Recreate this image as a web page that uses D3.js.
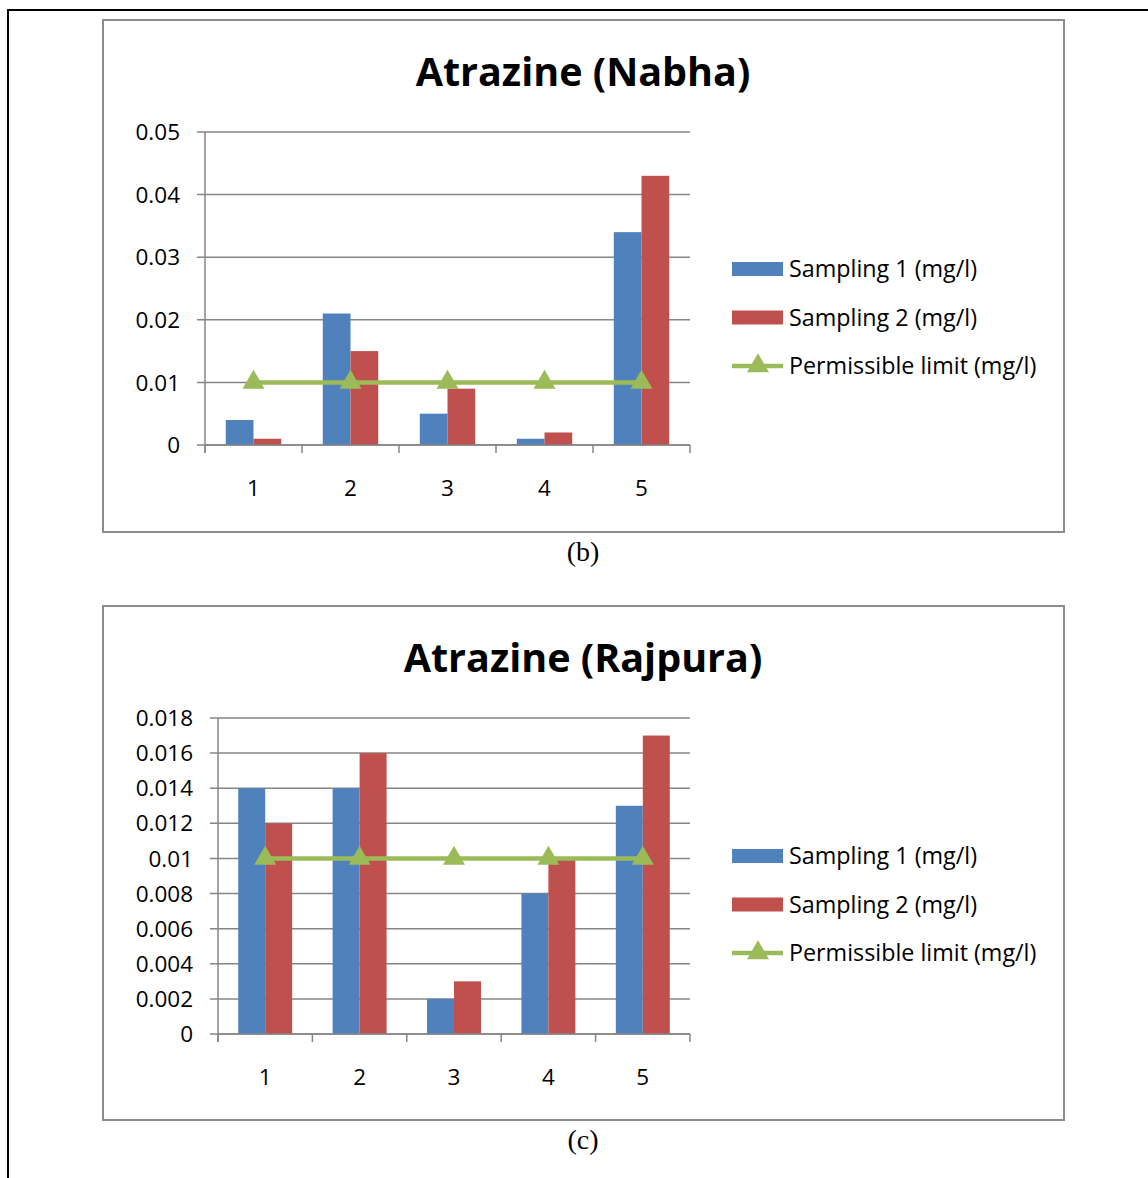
<!DOCTYPE html>
<html>
<head>
<meta charset="utf-8">
<script src="https://cdn.jsdelivr.net/npm/d3@7"></script>
<style>
  body { margin: 0; background: #fff; }
  svg { display: block; }
</style>
</head>
<body>
<script>
// sampling sites
var sites = ["1", "2", "3", "4", "5"];

// Atrazine (Nabha)
var nabhaS1 = [0.004, 0.021, 0.005, 0.001, 0.034];
var nabhaS2 = [0.001, 0.015, 0.009, 0.002, 0.043];
var nabhaLimit = [0.01, 0.01, 0.01, 0.01, 0.01];
var nabhaTicks = [0, 0.01, 0.02, 0.03, 0.04, 0.05];

// Atrazine (Rajpura)
var rajpuraS1 = [0.014, 0.014, 0.002, 0.008, 0.013];
var rajpuraS2 = [0.012, 0.016, 0.003, 0.010, 0.017];
var rajpuraLimit = [0.01, 0.01, 0.01, 0.01, 0.01];
var rajpuraTicks = [0, 0.002, 0.004, 0.006, 0.008, 0.01, 0.012, 0.014, 0.016, 0.018];

var seriesNames = ["Sampling 1 (mg/l)", "Sampling 2 (mg/l)", "Permissible limit (mg/l)"];
var colors = ["#4f81bd", "#c0504d", "#9bbb59"];

var font = "'Open Sans', Lato, sans-serif";

var svg = d3.select("body").append("svg")
    .attr("width", 1148)
    .attr("height", 1178);

// outer page frame
svg.append("path")
    .attr("d", "M8,1178 V10 H1148")
    .attr("fill", "none")
    .attr("stroke", "#000")
    .attr("stroke-width", 2);

function drawChart(opt) {
    var box = svg.append("g").attr("transform", "translate(" + opt.x + "," + opt.y + ")");

    box.append("rect")
        .attr("x", 0).attr("y", 0)
        .attr("width", 961).attr("height", opt.h)
        .attr("fill", "#fff")
        .attr("stroke", "#8c8c8c")
        .attr("stroke-width", 2);

    box.append("text")
        .attr("x", 480)
        .attr("y", opt.titleY)
        .style("text-anchor", "middle")
        .style("font", "bold 39.5px " + font)
        .text(opt.title);

    var g = box.append("g").attr("transform", "translate(" + opt.left + "," + opt.top + ")");
    var width = 690 - 103 - opt.left,
        height = opt.plotH;

    var x = d3.scaleBand().domain(sites).range([0, width]).paddingInner(0).paddingOuter(0);
    var y = d3.scaleLinear().domain([0, d3.max(opt.ticks)]).range([height, 0]);

    // gridlines
    g.selectAll(".grid")
        .data(opt.ticks)
        .enter().append("line")
        .attr("x1", -8).attr("x2", width)
        .attr("y1", function (d) { return y(d); })
        .attr("y2", function (d) { return y(d); })
        .attr("stroke", "#868686")
        .attr("stroke-width", 1.5);

    g.selectAll(".ylab")
        .data(opt.ticks)
        .enter().append("text")
        .attr("x", -25)
        .attr("y", function (d) { return y(d); })
        .attr("dy", "0.36em")
        .style("text-anchor", "end")
        .style("font", "22.5px " + font)
        .text(function (d) { return d === 0 ? "0" : String(+d.toFixed(3)); });

    // bars
    var bw = x.bandwidth() / 3.5;
    [opt.s1, opt.s2].forEach(function (vals, k) {
        g.selectAll(".bar" + k)
            .data(vals)
            .enter().append("rect")
            .attr("x", function (d, i) { return x(sites[i]) + x.bandwidth() / 2 - bw + k * bw; })
            .attr("y", function (d) { return y(d); })
            .attr("width", bw)
            .attr("height", function (d) { return height - y(d); })
            .attr("fill", colors[k]);
    });

    // axes
    g.append("line")
        .attr("x1", 0).attr("x2", 0).attr("y1", 0).attr("y2", height + 8)
        .attr("stroke", "#868686").attr("stroke-width", 1.5);
    g.append("line")
        .attr("x1", 0).attr("x2", width).attr("y1", height).attr("y2", height)
        .attr("stroke", "#868686").attr("stroke-width", 1.5);
    g.selectAll(".xtick")
        .data(d3.range(sites.length + 1))
        .enter().append("line")
        .attr("x1", function (i) { return i * x.step(); })
        .attr("x2", function (i) { return i * x.step(); })
        .attr("y1", height).attr("y2", height + 8)
        .attr("stroke", "#868686").attr("stroke-width", 1.5);

    g.selectAll(".xlab")
        .data(sites)
        .enter().append("text")
        .attr("x", function (d) { return x(d) + x.bandwidth() / 2; })
        .attr("y", height + 43)
        .attr("dy", "0.36em")
        .style("text-anchor", "middle")
        .style("font", "22.5px " + font)
        .text(function (d) { return d; });

    // permissible limit line
    var line = d3.line()
        .x(function (d, i) { return x(sites[i]) + x.bandwidth() / 2; })
        .y(function (d) { return y(d); });
    g.append("path")
        .datum(opt.limit)
        .attr("d", line)
        .attr("fill", "none")
        .attr("stroke", colors[2])
        .attr("stroke-width", 4.5);
    var tri = d3.symbol().type(d3.symbolTriangle).size(210);
    g.selectAll(".marker")
        .data(opt.limit)
        .enter().append("path")
        .attr("d", tri)
        .attr("transform", function (d, i) {
            return "translate(" + (x(sites[i]) + x.bandwidth() / 2) + "," + y(d) + ")";
        })
        .attr("fill", colors[2]);

    // legend
    var legend = box.append("g")
        .attr("transform", "translate(629," + opt.legendY + ")")
        .selectAll("g")
        .data(seriesNames)
        .enter().append("g")
        .attr("transform", function (d, i) { return "translate(0," + (i * 48.5) + ")"; });

    legend.filter(function (d, i) { return i < 2; })
        .append("rect")
        .attr("x", 0).attr("y", -7)
        .attr("width", 51).attr("height", 14)
        .attr("fill", function (d, i) { return colors[i]; });

    var lim = legend.filter(function (d, i) { return i === 2; });
    lim.append("line")
        .attr("x1", 0).attr("x2", 51).attr("y1", 0).attr("y2", 0)
        .attr("stroke", colors[2]).attr("stroke-width", 4.5);
    lim.append("path")
        .attr("d", tri)
        .attr("transform", "translate(26,0)")
        .attr("fill", colors[2]);

    legend.append("text")
        .attr("x", 57)
        .attr("dy", "0.36em")
        .style("font", "23.3px " + font)
        .text(function (d) { return d; });

    svg.append("text")
        .attr("x", 583)
        .attr("y", opt.y + opt.h + 29)
        .style("text-anchor", "middle")
        .style("font", "28px 'Liberation Serif', 'DejaVu Serif', serif")
        .text(opt.caption);
}

drawChart({
    x: 103, y: 20, h: 512,
    title: "Atrazine (Nabha)", titleY: 66,
    left: 102, top: 112, plotH: 313,
    ticks: nabhaTicks, s1: nabhaS1, s2: nabhaS2, limit: nabhaLimit,
    legendY: 249, caption: "(b)"
});

drawChart({
    x: 103, y: 606, h: 514,
    title: "Atrazine (Rajpura)", titleY: 66,
    left: 115, top: 112, plotH: 316,
    ticks: rajpuraTicks, s1: rajpuraS1, s2: rajpuraS2, limit: rajpuraLimit,
    legendY: 250, caption: "(c)"
});
</script>
</body>
</html>
